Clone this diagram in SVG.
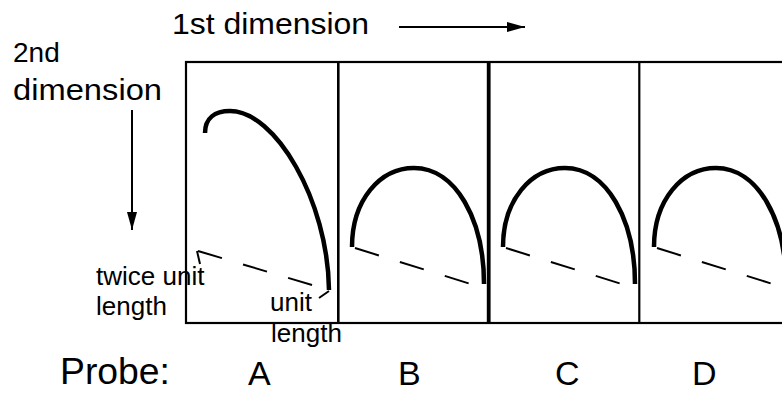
<svg xmlns="http://www.w3.org/2000/svg" xmlns:xlink="http://www.w3.org/1999/xlink" width="782" height="393" viewBox="0 0 782 393">
<style>
text{font-family:"Liberation Sans",Arial,sans-serif;fill:#000}
.frame{fill:none;stroke:#000;stroke-width:2.2}
.arc{fill:none;stroke:#000;stroke-width:4.5}
.dash{fill:none;stroke:#000;stroke-width:2;stroke-dasharray:25 22}
.thin{fill:none;stroke:#000;stroke-width:2}
.probe{font-size:34px}
</style>
<defs>
<marker id="ah" viewBox="0 0 18 10" refX="18" refY="5" markerWidth="18" markerHeight="10" markerUnits="userSpaceOnUse" orient="auto">
<path d="M0,0 L18,5 L0,10 Z" fill="#000"/>
</marker>
<g id="probeShape">
<path class="arc" d="M352,247 C352,200 380,168 414,168 C456,168 484,220 484,284"/>
<line class="dash" x1="355" y1="248" x2="474" y2="285"/>
</g>
</defs>
<rect width="782" height="393" fill="#fff"/>
<g id="labels">
<text x="172" y="34" font-size="30" textLength="197" lengthAdjust="spacingAndGlyphs">1st dimension</text>
<text x="13" y="62" font-size="28">2nd</text>
<text x="13" y="100" font-size="29" textLength="149" lengthAdjust="spacingAndGlyphs">dimension</text>
<text x="96" y="285" font-size="26">twice unit</text>
<text x="96" y="315" font-size="26">length</text>
<text x="270" y="311" font-size="26">unit</text>
<text x="271" y="342" font-size="26">length</text>
<text x="60" y="384" font-size="36" textLength="110" lengthAdjust="spacingAndGlyphs">Probe:</text>
</g>
<g id="frame">
<rect class="frame" x="186" y="62" width="620" height="261"/>
<line class="frame" x1="338.3" y1="62" x2="338.3" y2="323" style="stroke-width:2.6"/>
<line class="frame" x1="488.7" y1="62" x2="488.7" y2="323" style="stroke-width:3.8"/>
<line class="frame" x1="639.3" y1="62" x2="639.3" y2="323"/>
</g>
<g id="probeA">
<path class="arc" d="M205,133 C205,118 215,111 230,111 C275,111 328,200 329,290"/>
<line class="dash" x1="198" y1="251" x2="322" y2="288"/>
<text class="probe" x="248" y="385">A</text>
</g>
<g id="probeB">
<use xlink:href="#probeShape"/>
<text class="probe" x="398" y="385">B</text>
</g>
<g id="probeC">
<use xlink:href="#probeShape" transform="translate(151,0)"/>
<text class="probe" x="555" y="385">C</text>
</g>
<g id="probeD">
<use xlink:href="#probeShape" transform="translate(302,0)"/>
<text class="probe" x="692" y="385">D</text>
</g>
<g id="connectors">
<line class="thin" x1="399" y1="27" x2="525" y2="27" marker-end="url(#ah)"/>
<line class="thin" x1="132" y1="110" x2="132" y2="230" marker-end="url(#ah)"/>
<line class="thin" x1="197" y1="251" x2="200" y2="264"/>
<line class="thin" x1="329" y1="291" x2="319" y2="298"/>
</g>
</svg>
